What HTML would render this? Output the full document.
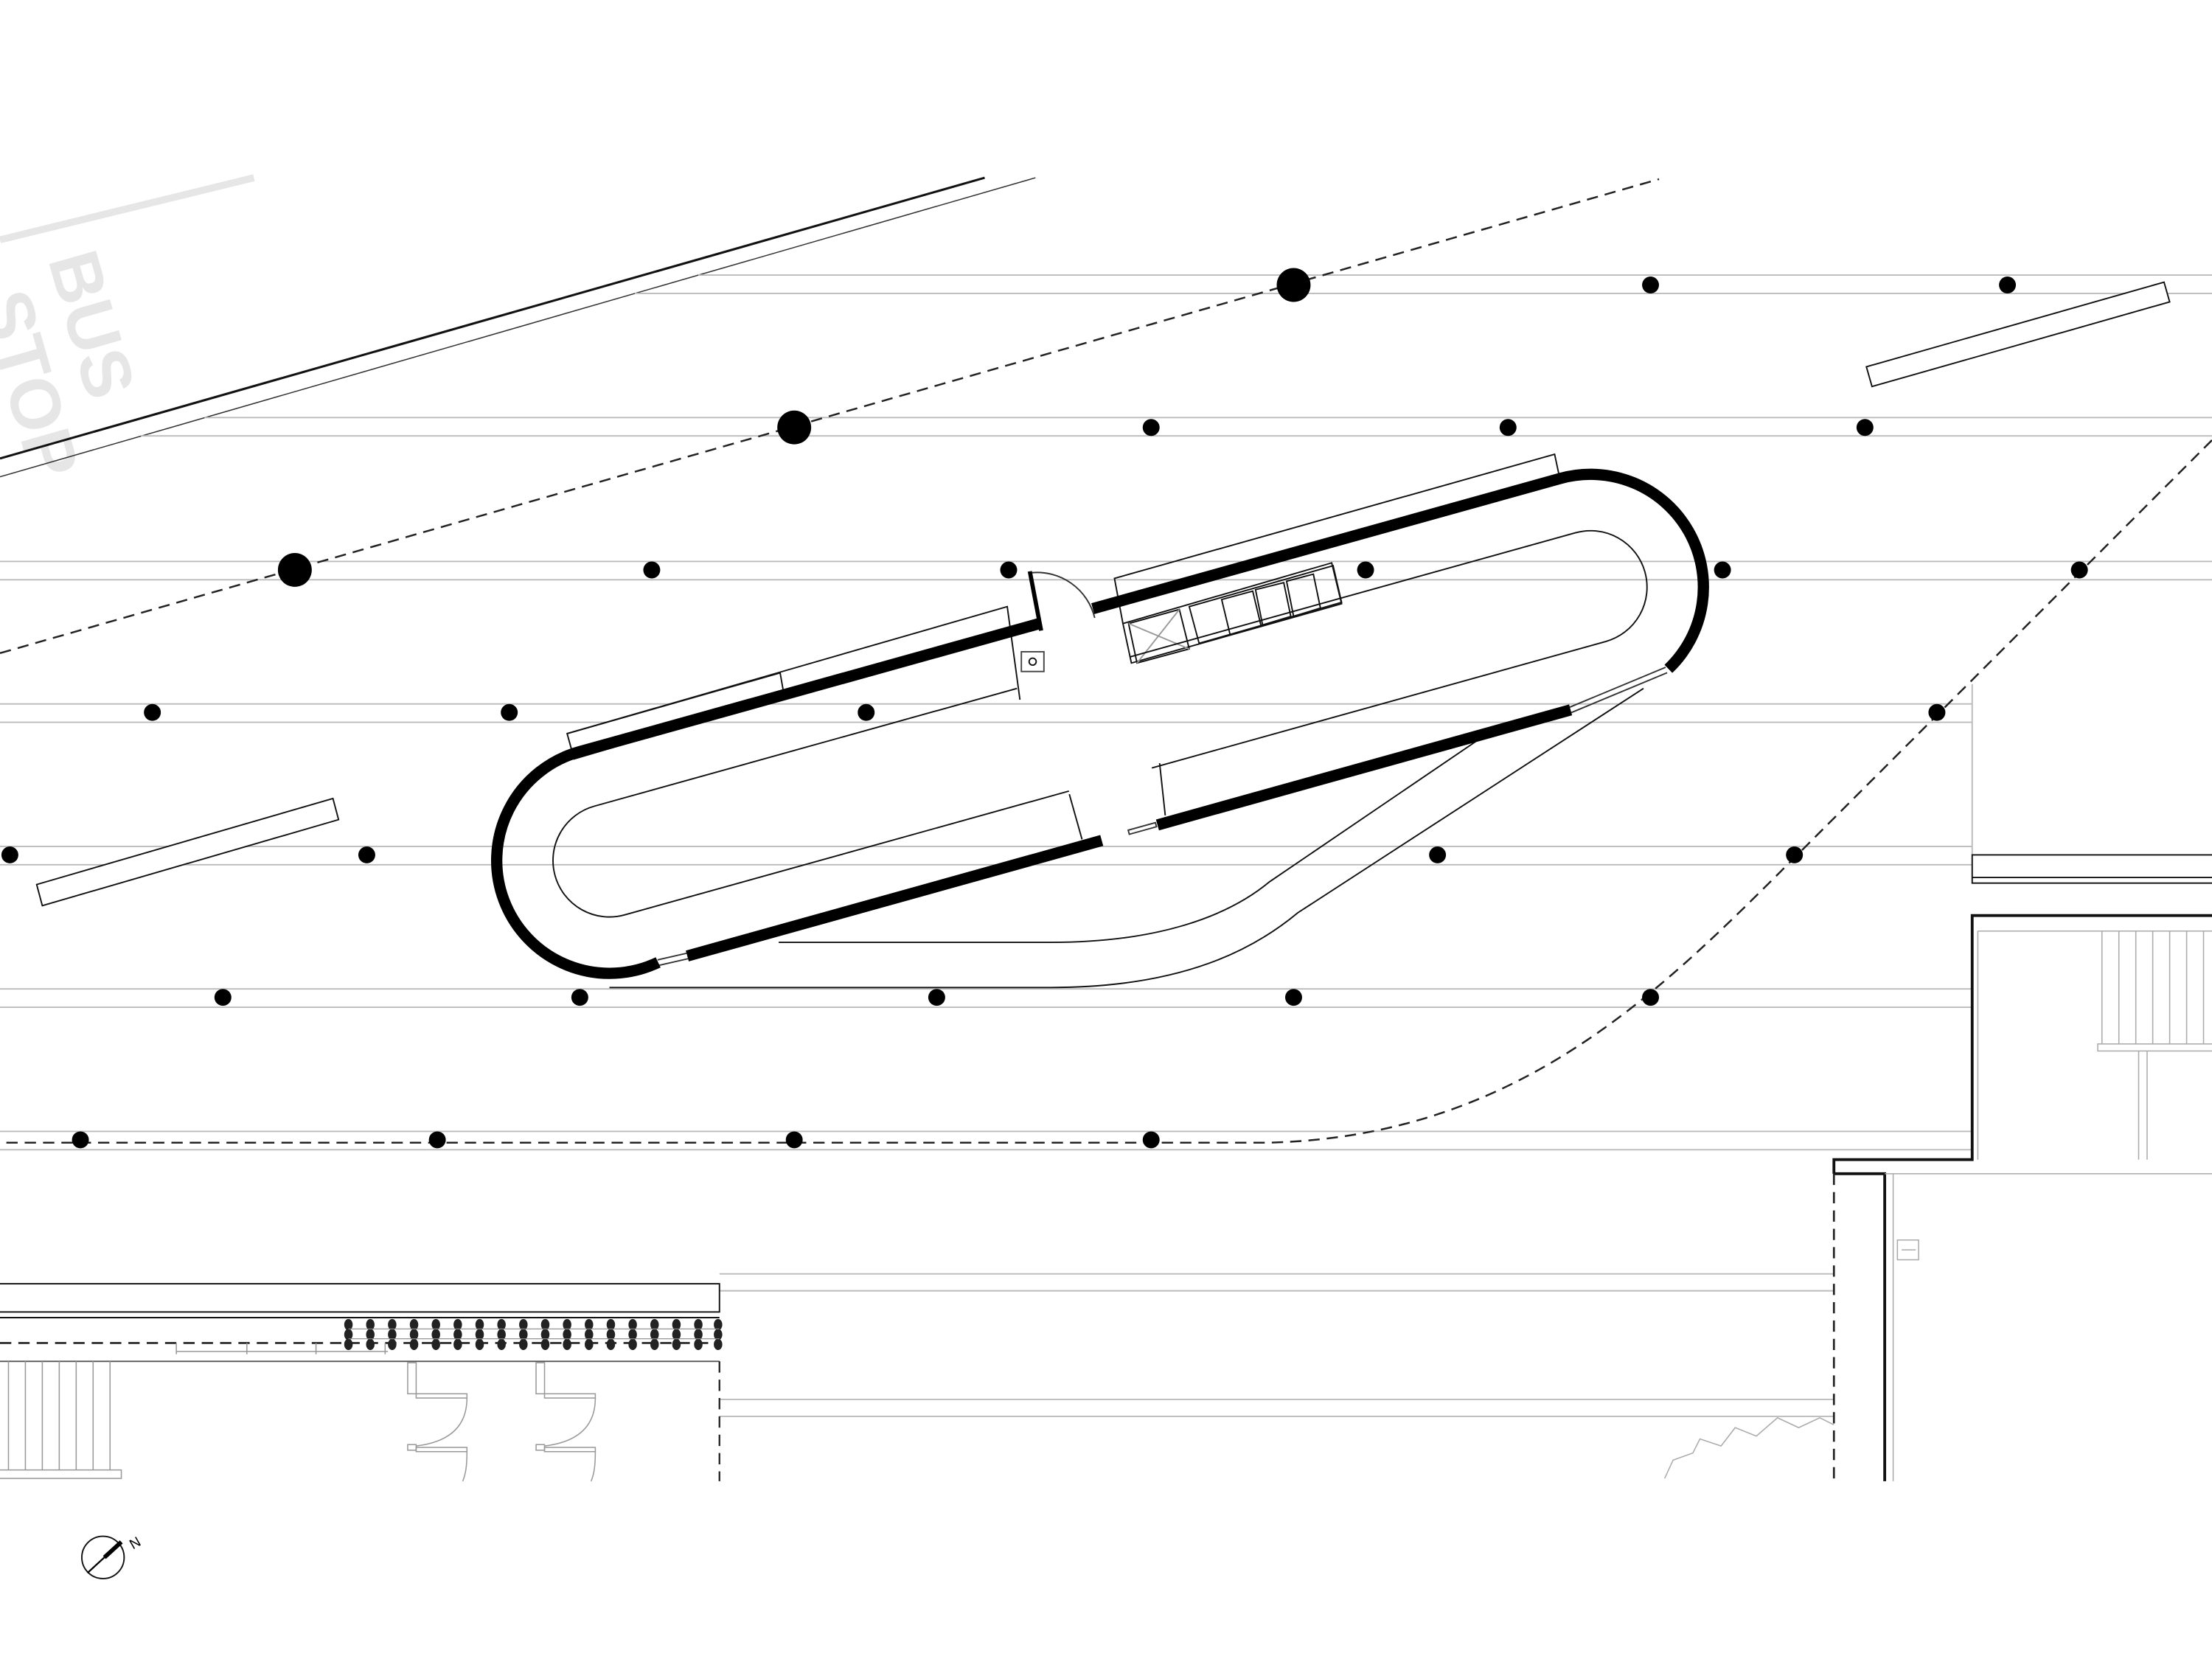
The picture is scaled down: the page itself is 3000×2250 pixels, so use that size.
<!DOCTYPE html>
<html><head><meta charset="utf-8"><style>html,body{margin:0;padding:0;background:#fff}svg{display:block}</style></head>
<body>
<svg width="3000" height="2250" viewBox="0 0 1568 1176" xmlns="http://www.w3.org/2000/svg">
<defs><g id="col"><ellipse cx="0" cy="939" rx="3" ry="4"/><ellipse cx="0" cy="946" rx="3" ry="4"/><ellipse cx="0" cy="953" rx="3" ry="4"/></g></defs>
<rect width="1568" height="1176" fill="#fff"/>
<!-- bus stop -->
<line x1="0" y1="170" x2="180" y2="126" stroke="#e6e6e6" stroke-width="5"/>
<g font-family="Liberation Sans, sans-serif" font-weight="bold" font-size="50" fill="#e6e6e6">
<text transform="translate(34,184) rotate(74)">BUS</text>
<text transform="translate(-14,212) rotate(74)">STOP</text>
</g>
<line x1="0" y1="325" x2="698" y2="126" stroke="#111" stroke-width="1.6"/>
<line x1="0" y1="338" x2="734" y2="126" stroke="#333" stroke-width="0.8"/>
<!-- horizontal grid lines -->
<g stroke="#bbb" stroke-width="1">
<line x1="495" y1="195" x2="1568" y2="195"/><line x1="450" y1="208" x2="1568" y2="208"/>
<line x1="145" y1="296" x2="1568" y2="296"/><line x1="100" y1="309" x2="1568" y2="309"/>
<line x1="0" y1="398" x2="1568" y2="398"/><line x1="0" y1="411" x2="1568" y2="411"/>
<line x1="0" y1="499" x2="1398" y2="499"/><line x1="0" y1="512" x2="1398" y2="512"/>
<line x1="0" y1="600" x2="1398" y2="600"/><line x1="0" y1="613" x2="1398" y2="613"/>
<line x1="0" y1="701" x2="1398" y2="701"/><line x1="0" y1="714" x2="1398" y2="714"/>
<line x1="0" y1="802" x2="1398" y2="802"/><line x1="0" y1="815" x2="1398" y2="815"/>
<line x1="510" y1="903" x2="1300" y2="903"/><line x1="510" y1="915" x2="1300" y2="915"/>
<line x1="510" y1="992" x2="1300" y2="992"/><line x1="510" y1="1004" x2="1300" y2="1004"/>
<line x1="1398" y1="485" x2="1398" y2="606"/>
</g>
<!-- dashed lines -->
<g fill="none" stroke="#222" stroke-width="1.3" stroke-dasharray="8,5">
<line x1="0" y1="463" x2="1176" y2="127"/>
<path d="M1568,312 L1280,600 C1180,700 1080,805 900,810 L0,810"/>
</g>
<!-- dots -->
<g fill="#000">
<circle cx="917" cy="202" r="12"/><circle cx="1170" cy="202" r="6"/><circle cx="1423" cy="202" r="6"/>
<circle cx="563" cy="303" r="12"/><circle cx="816" cy="303" r="6"/><circle cx="1069" cy="303" r="6"/><circle cx="1322" cy="303" r="6"/>
<circle cx="209" cy="404" r="12"/><circle cx="462" cy="404" r="6"/><circle cx="715" cy="404" r="6"/><circle cx="968" cy="404" r="6"/><circle cx="1221" cy="404" r="6"/><circle cx="1474" cy="404" r="6"/>
<circle cx="108" cy="505" r="6"/><circle cx="361" cy="505" r="6"/><circle cx="614" cy="505" r="6"/><circle cx="1373" cy="505" r="6"/>
<circle cx="7" cy="606" r="6"/><circle cx="260" cy="606" r="6"/><circle cx="1019" cy="606" r="6"/><circle cx="1272" cy="606" r="6"/>
<circle cx="158" cy="707" r="6"/><circle cx="411" cy="707" r="6"/><circle cx="664" cy="707" r="6"/><circle cx="917" cy="707" r="6"/><circle cx="1170" cy="707" r="6"/>
<circle cx="57" cy="808" r="6"/><circle cx="310" cy="808" r="6"/><circle cx="563" cy="808" r="6"/><circle cx="816" cy="808" r="6"/>
</g>
<!-- benches -->
<g fill="#fff" stroke="#111" stroke-width="1">
<polygon points="1323,260 1534,200 1538,214 1327,274"/>
<polygon points="26,627 236,566 240,581 30,642"/>
<polygon points="402,520 553,477 556,494 407,538"/>
</g>
<!-- counters -->
<g fill="none" stroke="#111" stroke-width="1">
<polyline points="402,520 714,430 723,496"/>
<polyline points="796,442 790,410 1102,322 1105,336 961,377 963,383"/>
<line x1="758" y1="563" x2="767" y2="595"/>
<line x1="822" y1="541" x2="826" y2="578"/>
<polygon points="796,442 944,399 951,428 802,470"/>
<polygon points="800,442 836,432 843,460 806,470"/>
<polygon points="843,430 945,401 951,427 850,456"/>
<polygon points="866,425 888,419 894,444 872,450"/>
<polygon points="890,418 910,413 915,437 895,443"/>
<polygon points="912,412 931,407 936,431 917,437"/>
<line x1="800" y1="442" x2="843" y2="460" stroke="#999"/><line x1="836" y1="432" x2="806" y2="470" stroke="#999"/>
<rect x="724" y="462" width="16" height="14" stroke="#444"/><circle cx="732" cy="469" r="2.5"/>
<path d="M731,406 A42,42 0 0 1 776,438" stroke="#333"/>
</g>
<line x1="730" y1="405" x2="738" y2="447" stroke="#000" stroke-width="3"/>
<!-- road -->
<g fill="none" stroke="#111" stroke-width="1">
<path d="M552,668 L745,668 C820,668 870,650 900,625 L1050,523"/>
<path d="M432,700 L745,700 C840,700 890,672 920,647 L1165,488"/>
</g>
<!-- track -->
<g transform="translate(432,610) rotate(-15.57)">
<path d="M311,-40 L0,-40 A40,40 0 0 0 0,40 L327,40 M388,40 L722,40 A40,40 0 0 0 722,-40 L394,-40" fill="none" stroke="#111" stroke-width="1"/>
<g fill="none" stroke="#000" stroke-width="8">
<path d="M13.9,78.8 A80,80 0 1 1 0,-80 L340,-80"/>
<path d="M378,-80 L722,-80 A80,80 0 0 1 759.6,70.6"/>
<line x1="685" y1="80" x2="381" y2="80"/>
<line x1="340" y1="80" x2="35" y2="80"/>
</g>
<g stroke="#333" stroke-width="1">
<line x1="14" y1="77" x2="35" y2="78"/><line x1="14" y1="81" x2="35" y2="82"/>
<line x1="685" y1="78" x2="758" y2="69"/><line x1="685" y1="82" x2="758" y2="73"/>
<rect x="360" y="78" width="20" height="3" fill="none"/>
</g>
</g>
<!-- right building -->
<g fill="none" stroke="#111" stroke-width="1">
<rect x="1398" y="606" width="172" height="20"/>
<line x1="1398" y1="622" x2="1568" y2="622"/>
</g>
<polyline points="1568,649 1398,649 1398,822 1300,822 1300,832" fill="none" stroke="#111" stroke-width="2"/>
<polyline points="1300,832 1336,832 1336,1050" fill="none" stroke="#111" stroke-width="2"/>
<line x1="1300" y1="832" x2="1300" y2="1050" stroke="#222" stroke-width="1.4" stroke-dasharray="8,5"/>
<g stroke="#aaa" stroke-width="0.8" fill="none">
<line x1="1336" y1="832" x2="1568" y2="832"/>
<line x1="1342" y1="832" x2="1342" y2="1050"/>
<line x1="1402" y1="660" x2="1568" y2="660"/>
<line x1="1402" y1="660" x2="1402" y2="822"/>
<line x1="1490" y1="660" x2="1490" y2="740"/><line x1="1502" y1="660" x2="1502" y2="740"/><line x1="1514" y1="660" x2="1514" y2="740"/><line x1="1526" y1="660" x2="1526" y2="740"/><line x1="1538" y1="660" x2="1538" y2="740"/><line x1="1550" y1="660" x2="1550" y2="740"/><line x1="1562" y1="660" x2="1562" y2="740"/>
<rect x="1487" y="740" width="90" height="5"/>
<line x1="1516" y1="745" x2="1516" y2="822"/><line x1="1522" y1="745" x2="1522" y2="822"/>
<rect x="1345" y="879" width="15" height="14"/><line x1="1348" y1="886" x2="1358" y2="886"/>
<polyline points="1180,1048 1186,1035 1200,1030 1205,1020 1220,1025 1230,1012 1245,1018 1260,1005 1275,1012 1290,1005 1300,1010"/>
</g>
<!-- bottom left building -->
<g fill="none" stroke="#111" stroke-width="1">
<rect x="-2" y="910" width="512" height="20"/>
<line x1="0" y1="934" x2="510" y2="934"/>
<line x1="0" y1="965" x2="510" y2="965" stroke="#555"/>
</g>
<line x1="0" y1="952" x2="510" y2="952" stroke="#222" stroke-width="1.4" stroke-dasharray="8,5"/>
<line x1="510" y1="965" x2="510" y2="1050" stroke="#222" stroke-width="1.2" stroke-dasharray="8,5"/>
<g fill="#222">
<use href="#col" x="247"/><use href="#col" x="262.5"/><use href="#col" x="278"/><use href="#col" x="293.5"/><use href="#col" x="309"/><use href="#col" x="324.5"/><use href="#col" x="340"/><use href="#col" x="355.5"/><use href="#col" x="371"/><use href="#col" x="386.5"/><use href="#col" x="402"/><use href="#col" x="417.5"/><use href="#col" x="433"/><use href="#col" x="448.5"/><use href="#col" x="464"/><use href="#col" x="479.5"/><use href="#col" x="495"/><use href="#col" x="509"/>
</g>
<g stroke="#888" stroke-width="0.6"><line x1="247" y1="942" x2="510" y2="942"/><line x1="247" y1="949" x2="510" y2="949"/></g>
<g fill="none" stroke="#999" stroke-width="0.8">
<line x1="125" y1="958" x2="275" y2="958"/>
<line x1="125" y1="952" x2="125" y2="960"/><line x1="175" y1="952" x2="175" y2="960"/><line x1="224" y1="952" x2="224" y2="960"/><line x1="273" y1="952" x2="273" y2="960"/>
<line x1="6" y1="965" x2="6" y2="1042"/><line x1="18" y1="965" x2="18" y2="1042"/><line x1="30" y1="965" x2="30" y2="1042"/><line x1="42" y1="965" x2="42" y2="1042"/><line x1="54" y1="965" x2="54" y2="1042"/><line x1="66" y1="965" x2="66" y2="1042"/><line x1="78" y1="965" x2="78" y2="1042"/>
<rect x="-2" y="1042" width="88" height="6"/>
<rect x="289" y="966" width="6" height="22"/><rect x="295" y="988" width="36" height="3"/><path d="M331,991 C331,1010 320,1022 295,1025"/><rect x="289" y="1024" width="6" height="4"/><rect x="295" y="1026" width="36" height="3"/><path d="M331,1029 C331,1040 330,1045 328,1050"/>
<rect x="380" y="966" width="6" height="22"/><rect x="386" y="988" width="36" height="3"/><path d="M422,991 C422,1010 411,1022 386,1025"/><rect x="380" y="1024" width="6" height="4"/><rect x="386" y="1026" width="36" height="3"/><path d="M422,1029 C422,1040 421,1045 419,1050"/>
</g>
<!-- compass -->
<circle cx="73" cy="1104" r="15" fill="none" stroke="#111" stroke-width="1"/>
<line x1="62" y1="1115" x2="86" y2="1093" stroke="#000" stroke-width="1.2"/>
<line x1="74" y1="1104" x2="86" y2="1093" stroke="#000" stroke-width="3"/>
<text x="92" y="1098" font-family="Liberation Sans, sans-serif" font-size="10" transform="rotate(-30 94 1094)">N</text>
</svg>
</body></html>
